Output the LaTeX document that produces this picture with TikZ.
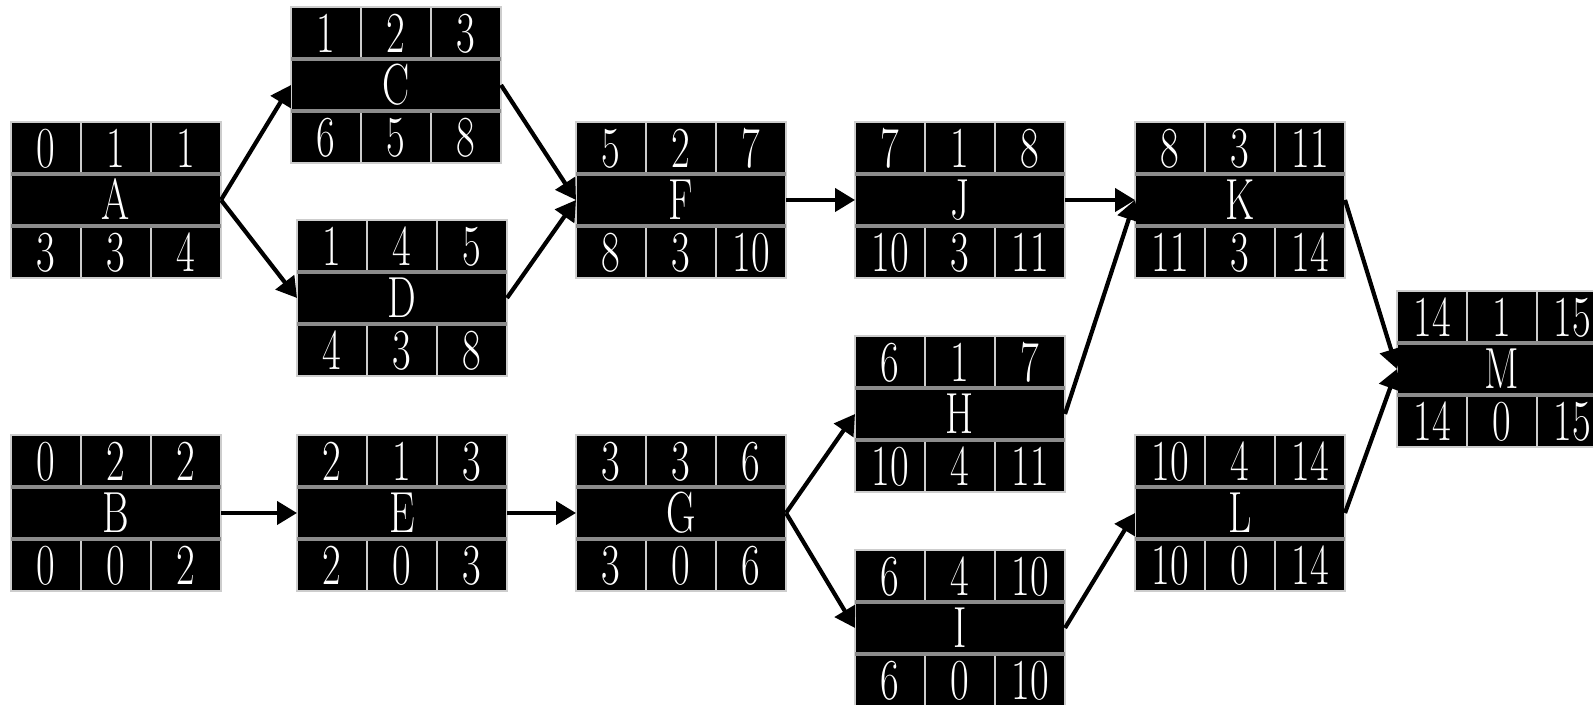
\documentclass[tikz,border=0pt]{standalone}
\usepackage{graphicx}
\usepackage{tikz}
\usetikzlibrary{positioning, arrows.meta}
\definecolor{bandgray}{RGB}{140,140,140}
\definecolor{rimgray}{RGB}{205,205,205}

% condensed white lettering
\newcommand{\narrow}[1]{\scalebox{0.7}[1]{#1}}

% one activity box: name, position, ES, duration, EF, LS, slack, LF
\newcommand{\actbox}[8]{%
  \node[midrow] (#1) at (#2) {\narrow{#1}};
  \node[cell, anchor=south west] (#1-es) at (#1.north west) {\narrow{#3}};
  \node[cell, anchor=south] (#1-dur) at (#1.north) {\narrow{#4}};
  \node[cell, anchor=south east] (#1-ef) at (#1.north east) {\narrow{#5}};
  \node[cell, anchor=north west] (#1-ls) at (#1.south west) {\narrow{#6}};
  \node[cell, anchor=north] (#1-slack) at (#1.south) {\narrow{#7}};
  \node[cell, anchor=north east] (#1-lf) at (#1.south east) {\narrow{#8}};
  \draw[band] (#1.north west) -- (#1.north east);
  \draw[band] (#1.south west) -- (#1.south east);
}

\begin{document}
\begin{tikzpicture}[
    % Node styles
    cell/.style={rectangle, fill=black, draw=rimgray, line width=0.25mm, minimum width=7mm, minimum height=5.2mm, inner sep=0pt, outer sep=0pt, text height=3.9mm, text depth=0pt, text=white, font=\fontsize{16.5}{17}\selectfont},
    midrow/.style={cell, minimum width=21mm},
    band/.style={draw=bandgray, line width=0.45mm},
    % Edge styles
    flow/.style={draw=black, line width=1.2pt, -{Triangle[length=2mm, width=2.3mm]}}
]
\useasboundingbox (0,0) rectangle (15.93,-7.05);

% Column 1
\actbox{A}{1.16,-2.00}{0}{1}{1}{3}{3}{4}
\actbox{B}{1.16,-5.13}{0}{2}{2}{0}{0}{2}

% Column 2
\actbox{C}{3.96,-0.85}{1}{2}{3}{6}{5}{8}
\actbox{D}{4.02,-2.98}{1}{4}{5}{4}{3}{8}
\actbox{E}{4.02,-5.13}{2}{1}{3}{2}{0}{3}

% Column 3
\actbox{F}{6.81,-2.00}{5}{2}{7}{8}{3}{10}
\actbox{G}{6.81,-5.13}{3}{3}{6}{3}{0}{6}

% Column 4
\actbox{J}{9.60,-2.00}{7}{1}{8}{10}{3}{11}
\actbox{H}{9.60,-4.14}{6}{1}{7}{10}{4}{11}
\actbox{I}{9.60,-6.28}{6}{4}{10}{6}{0}{10}

% Column 5
\actbox{K}{12.40,-2.00}{8}{3}{11}{11}{3}{14}
\actbox{L}{12.40,-5.13}{10}{4}{14}{10}{0}{14}

% Finish
\actbox{M}{15.02,-3.69}{14}{1}{15}{14}{0}{15}

% Draw all edges
\draw[flow] (A.east) -- (C.west);
\draw[flow] (A.east) -- (D.west);

\draw[flow] (B.east) -- (E.west);

\draw[flow] (C.east) -- (F.west);
\draw[flow] (D.east) -- (F.west);

\draw[flow] (E.east) -- (G.west);

\draw[flow] (F.east) -- (J.west);

\draw[flow] (G.east) -- (H.west);
\draw[flow] (G.east) -- (I.west);

\draw[flow] (J.east) -- (K.west);
\draw[flow] (H.east) -- (K.west);

\draw[flow] (I.east) -- (L.west);

\draw[flow] (K.east) -- (M.west);
\draw[flow] (L.east) -- (M.west);

\end{tikzpicture}
\end{document}
